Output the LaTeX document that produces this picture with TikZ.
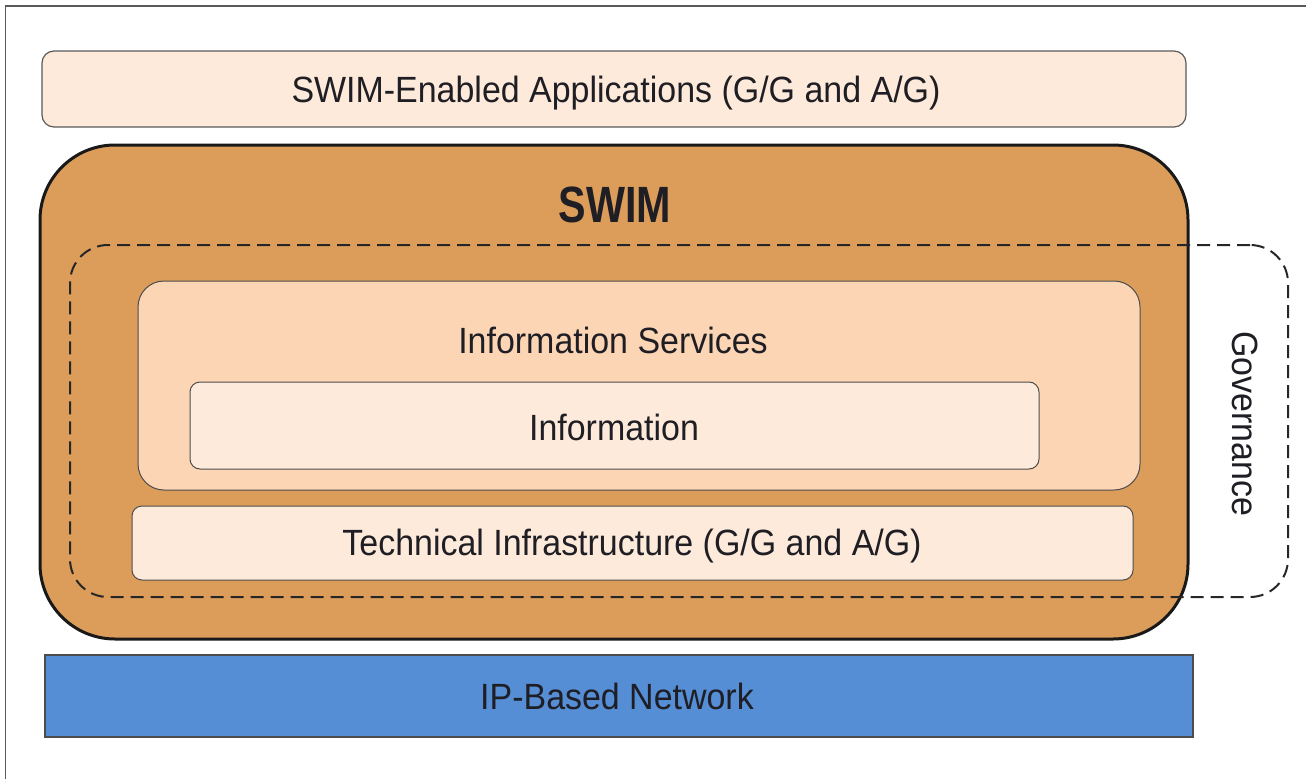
\documentclass[tikz,border=0pt]{standalone}
\usepackage{fontspec}
\newfontfamily\labfont{Liberation Sans}[FakeStretch=0.93]
\newfontfamily\swimfont{Liberation Sans}[FakeStretch=0.81]
\definecolor{paleorange}{HTML}{FDEADA}
\definecolor{tanfill}{HTML}{DC9D5B}
\definecolor{peach}{HTML}{FCD5B5}
\definecolor{netblue}{HTML}{558ED5}
\definecolor{textdark}{HTML}{1E1E24}
\definecolor{framegray}{HTML}{5A5A5A}
\tikzset{
  lab/.style={font=\labfont\fontsize{36.5}{40}\selectfont, text=textdark, inner sep=0pt, anchor=base},
  box/.style={draw=framegray, line width=1.2pt, inner sep=0pt, anchor=center},
}
\begin{document}
\begin{tikzpicture}[x=1pt,y=-1pt]
\useasboundingbox (0,0) rectangle (1306,779);
% partial frame
\draw[framegray, line width=1.6pt] (5.5,779) -- (5.5,6) -- (1306,6);
% top applications box
\node[box, fill=paleorange, rounded corners=12pt, minimum width=1144pt, minimum height=76pt] (apps) at (614,89) {};
\node[lab] (appstxt) at (616,102.5) {SWIM-Enabled Applications (G/G and A/G)};
% SWIM outer box
\node[draw=black!90, line width=3pt, fill=tanfill, rounded corners=75pt, inner sep=0pt, minimum width=1148pt, minimum height=494pt] (swim) at (614,392) {};
\node[font=\swimfont\bfseries\fontsize{51}{56}\selectfont, text=textdark, inner sep=0pt, anchor=base] (swimtxt) at (615,222) {SWIM};
% governance dashed region
\node[draw=black!85, line width=2pt, dash pattern=on 13pt off 7pt, rounded corners=38pt, inner sep=0pt, minimum width=1218pt, minimum height=352pt] (gov) at (679,421) {};
\node[font=\labfont\fontsize{36.5}{40}\selectfont, text=textdark, inner sep=0pt, rotate=-90] (govtxt) at (1245,424) {Governance};
% information services
\node[box, draw=black!70, line width=1pt, fill=peach, rounded corners=26pt, minimum width=1002pt, minimum height=209pt] (infosvc) at (639,385.5) {};
\node[lab] (infosvctxt) at (613,353) {Information Services};
% information
\node[box, draw=black!70, line width=1pt, fill=paleorange, rounded corners=10pt, minimum width=849pt, minimum height=87pt] (info) at (614.5,425.5) {};
\node[lab] (infotxt) at (614,440) {Information};
% technical infrastructure
\node[box, draw=black!70, line width=1pt, fill=paleorange, rounded corners=10pt, minimum width=1001pt, minimum height=74pt] (tech) at (632.5,543) {};
\node[lab] (techtxt) at (632,555) {Technical Infrastructure (G/G and A/G)};
% IP network
\node[draw=black!70, line width=1.3pt, fill=netblue, inner sep=0pt, minimum width=1148pt, minimum height=82pt] (ipnet) at (619,696) {};
\node[lab] (iptxt) at (617,709) {IP-Based Network};
\end{tikzpicture}
\end{document}
